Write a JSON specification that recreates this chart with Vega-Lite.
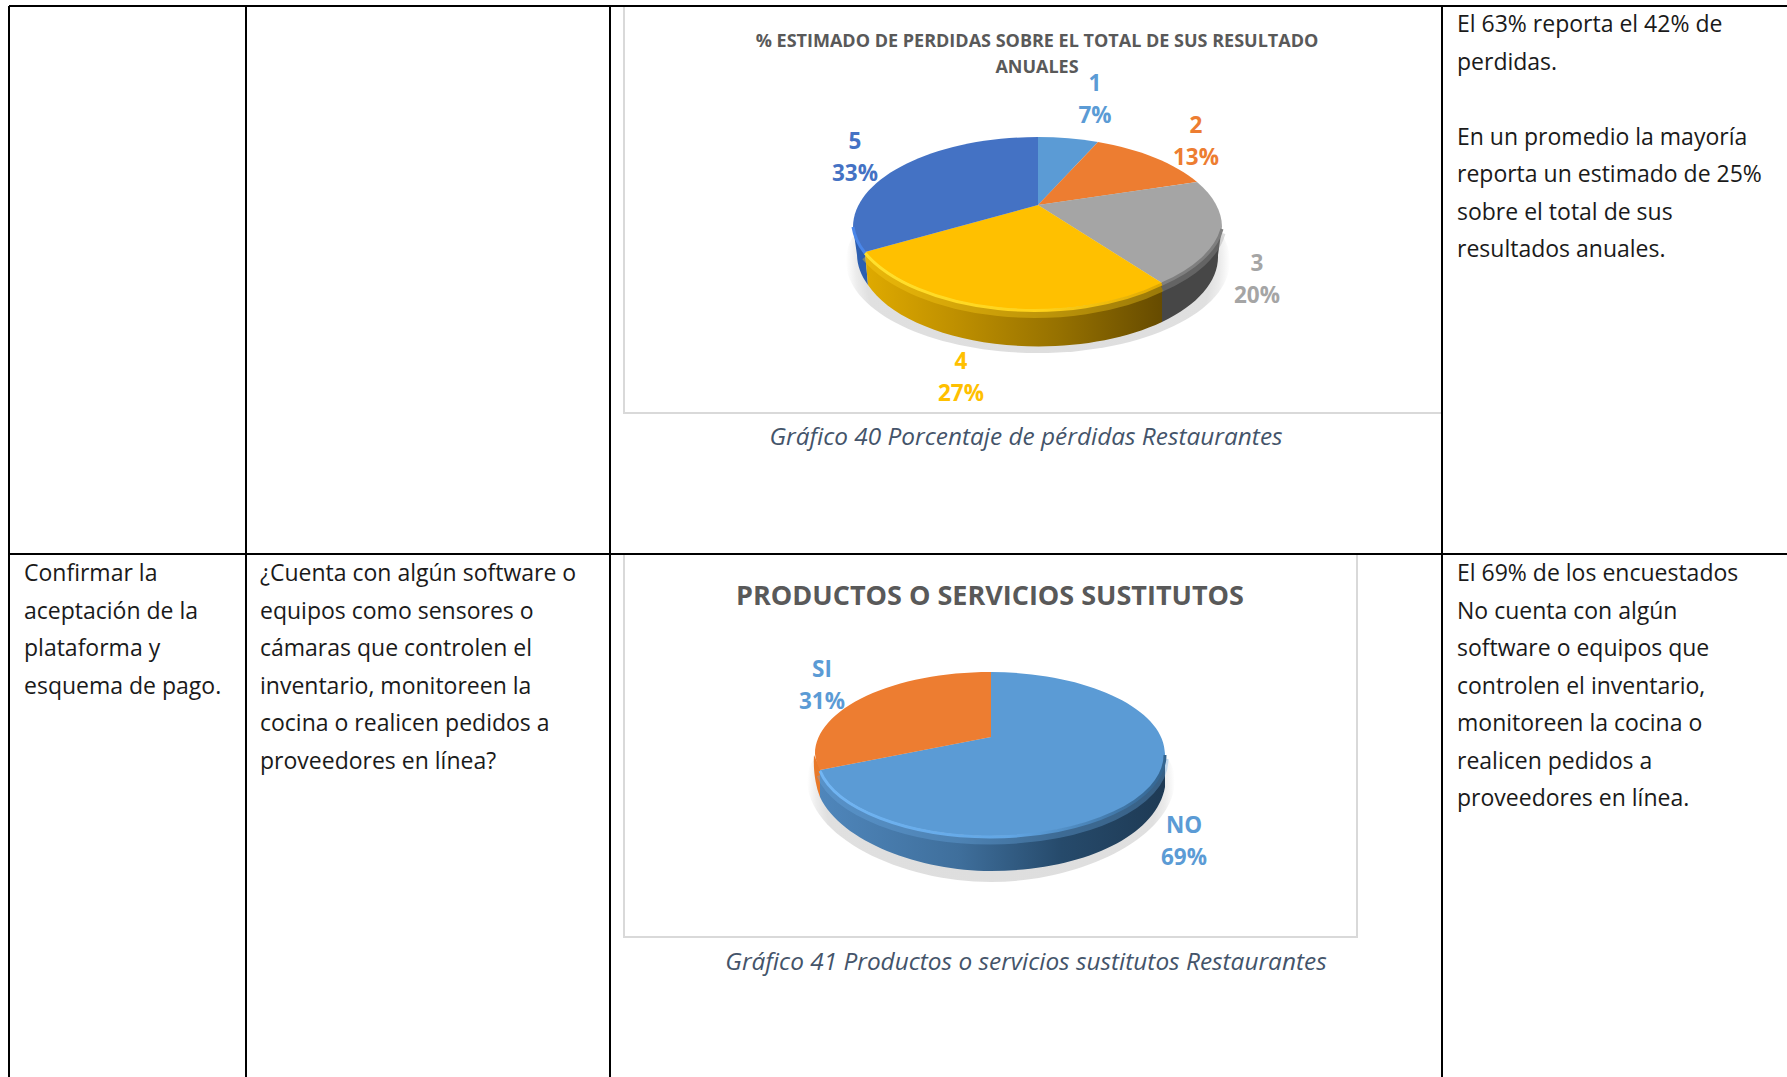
{
"$schema":"https://vega.github.io/schema/vega-lite/v6.json",
"width":1787,"height":1077,"padding":0,"autosize":"none","background":"white",
"config":{"view":{"stroke":null},"point":{"size":4,"opacity":1,"filled":true},"text":{"font":"Open Sans","baseline":"middle","lineBreak":"\n"}},
"datasets":{
"tramo":[{"ini":0,"fin":1}],
"porciones":[
{"grafico":"40","porcion":"1","clave":"40-1","valor":7,"etiqueta":"1\n7%"},
{"grafico":"40","porcion":"2","clave":"40-2","valor":13,"etiqueta":"2\n13%"},
{"grafico":"40","porcion":"3","clave":"40-3","valor":20,"etiqueta":"3\n20%"},
{"grafico":"40","porcion":"4","clave":"40-4","valor":27,"etiqueta":"4\n27%"},
{"grafico":"40","porcion":"5","clave":"40-5","valor":33,"etiqueta":"5\n33%"},
{"grafico":"41","porcion":"NO","clave":"41-NO","valor":69,"etiqueta":"NO\n69%"},
{"grafico":"41","porcion":"SI","clave":"41-SI","valor":31,"etiqueta":"SI\n31%"}
],
"titulos":[
{"grafico":"40","titulo":"% ESTIMADO DE PERDIDAS SOBRE EL TOTAL DE SUS RESULTADO\nANUALES","pie":"Gráfico 40 Porcentaje de pérdidas Restaurantes"},
{"grafico":"41","titulo":"PRODUCTOS O SERVICIOS SUSTITUTOS","pie":"Gráfico 41 Productos o servicios sustitutos Restaurantes"}
],
"celdas":[
{"columna":3,"linea":1,"texto":"El 63% reporta el 42% de"},
{"columna":3,"linea":2,"texto":"perdidas."},
{"columna":3,"linea":4,"texto":"En un promedio la mayoría"},
{"columna":3,"linea":5,"texto":"reporta un estimado de 25%"},
{"columna":3,"linea":6,"texto":"sobre el total de sus"},
{"columna":3,"linea":7,"texto":"resultados anuales."},
{"columna":0,"linea":8,"texto":"Confirmar la"},
{"columna":0,"linea":9,"texto":"aceptación de la"},
{"columna":0,"linea":10,"texto":"plataforma y"},
{"columna":0,"linea":11,"texto":"esquema de pago."},
{"columna":1,"linea":8,"texto":"¿Cuenta con algún software o"},
{"columna":1,"linea":9,"texto":"equipos como sensores o"},
{"columna":1,"linea":10,"texto":"cámaras que controlen el"},
{"columna":1,"linea":11,"texto":"inventario, monitoreen la"},
{"columna":1,"linea":12,"texto":"cocina o realicen pedidos a"},
{"columna":1,"linea":13,"texto":"proveedores en línea?"},
{"columna":3,"linea":8,"texto":"El 69% de los encuestados"},
{"columna":3,"linea":9,"texto":"No cuenta con algún"},
{"columna":3,"linea":10,"texto":"software o equipos que"},
{"columna":3,"linea":11,"texto":"controlen el inventario,"},
{"columna":3,"linea":12,"texto":"monitoreen la cocina o"},
{"columna":3,"linea":13,"texto":"realicen pedidos a"},
{"columna":3,"linea":14,"texto":"proveedores en línea."}
]
},
"data":{"name":"porciones"},
"encoding":{
"x":{"field":"grafico","type":"nominal","axis":null,"scale":{"type":"point","domain":["40","41"],"range":[1038,991],"padding":0}},
"y":{"field":"grafico","type":"nominal","axis":null,"scale":{"type":"point","domain":["40","41"],"range":[205,737],"padding":0}}
},
"resolve":{"scale":{"x":"independent","y":"independent","shape":"independent","color":"independent"}},
"layer":[
{"data":{"name":"tramo"},"mark":{"type":"rect","fill":"transparent","stroke":"#d9d9d9","strokeWidth":2},
 "encoding":{"x":{"field":"ini","type":"quantitative","axis":null,"scale":{"domain":[0,1],"range":[624,1442],"nice":false,"zero":false}},"x2":{"field":"fin"},"y":{"field":"ini","type":"quantitative","axis":null,"scale":{"domain":[0,1],"range":[6,413],"nice":false,"zero":false}},"y2":{"field":"fin"}}},
{"data":{"name":"tramo"},"mark":{"type":"rect","fill":"transparent","stroke":"#d9d9d9","strokeWidth":2},
 "encoding":{"x":{"field":"ini","type":"quantitative","axis":null,"scale":{"domain":[0,1],"range":[624,1357],"nice":false,"zero":false}},"x2":{"field":"fin"},"y":{"field":"ini","type":"quantitative","axis":null,"scale":{"domain":[0,1],"range":[554,937],"nice":false,"zero":false}},"y2":{"field":"fin"}}},
{"data":{"values":[{"borde":0,"ini":0,"fin":1},{"borde":1,"ini":0,"fin":1},{"borde":2,"ini":0,"fin":1},{"borde":3,"ini":0,"fin":1}]},"mark":{"type":"rule","stroke":"#000","strokeWidth":2},
 "encoding":{"x":{"field":"borde","type":"quantitative","axis":null,"scale":{"domain":[0,1,2,3],"range":[9,246,610,1442],"nice":false,"zero":false}},"y":{"field":"ini","type":"quantitative","axis":null,"scale":{"domain":[0,1],"range":[6,1077],"nice":false,"zero":false}},"y2":{"field":"fin"}}},
{"data":{"values":[{"fila":0,"ini":0,"fin":1},{"fila":1,"ini":0,"fin":1}]},"mark":{"type":"rule","stroke":"#000","strokeWidth":2},
 "encoding":{"y":{"field":"fila","type":"quantitative","axis":null,"scale":{"domain":[0,1],"range":[6,554],"nice":false,"zero":false}},"x":{"field":"ini","type":"quantitative","axis":null,"scale":{"domain":[0,1],"range":[9,1787],"nice":false,"zero":false}},"x2":{"field":"fin"}}},
{"data":{"name":"celdas"},"mark":{"type":"text","align":"left","fontSize":23,"color":"#1a1a1a"},
 "encoding":{"text":{"field":"texto"},
 "x":{"field":"columna","type":"quantitative","axis":null,"scale":{"domain":[0,1,3],"range":[24,260,1457],"nice":false,"zero":false}},
 "y":{"field":"linea","type":"quantitative","axis":null,"scale":{"domain":[1,7,8,14],"range":[25,250,574,799],"nice":false,"zero":false}}}},
{"data":{"name":"titulos"},"transform":[{"filter":"datum.grafico=='40'"}],"mark":{"type":"text","align":"center","fontSize":18,"fontWeight":"bold","color":"#595959","lineHeight":26,"dx":-1,"dy":-163},"encoding":{"text":{"field":"titulo"}}},
{"data":{"name":"titulos"},"transform":[{"filter":"datum.grafico=='41'"}],"mark":{"type":"text","align":"center","fontSize":27,"fontWeight":"bold","color":"#595959","dx":-1,"dy":-140},"encoding":{"text":{"field":"titulo"}}},
{"data":{"name":"titulos"},"transform":[{"filter":"datum.grafico=='40'"}],"mark":{"type":"text","align":"center","fontSize":24.4,"fontStyle":"italic","color":"#44546A","dx":-12,"dy":233},"encoding":{"text":{"field":"pie"}}},
{"data":{"name":"titulos"},"transform":[{"filter":"datum.grafico=='41'"}],"mark":{"type":"text","align":"center","fontSize":24.4,"fontStyle":"italic","color":"#44546A","dx":35,"dy":226},"encoding":{"text":{"field":"pie"}}},

{"transform":[{"filter":"datum.clave=='40-1'"}],"mark":{"type":"point","shape":"M-192,56 A192,92 0 1 0 192,56 A192,92 0 1 0 -192,56 Z","fill":{"gradient":"radial","x1":0.5,"y1":0.5,"r1":0,"x2":0.5,"y2":0.5,"r2":0.5,"stops":[{"offset":0,"color":"#dcdcdc"},{"offset":0.9,"color":"#e0e0e0"},{"offset":0.95,"color":"#ececec"},{"offset":1,"color":"#ffffff"}]}}},
{"transform":[{"filter":"datum.clave=='41-NO'"}],"mark":{"type":"point","shape":"M-184,42 C-184,100 -90,145 0,145 C90,145 184,100 184,42 C184,0 90,-40 0,-40 C-90,-40 -184,0 -184,42 Z","fill":{"gradient":"radial","x1":0.5,"y1":0.5,"r1":0,"x2":0.5,"y2":0.5,"r2":0.5,"stops":[{"offset":0,"color":"#dcdcdc"},{"offset":0.9,"color":"#e0e0e0"},{"offset":0.95,"color":"#ececec"},{"offset":1,"color":"#ffffff"}]}}},

{"transform":[{"filter":"datum.clave=='40-3'"}],"mark":{"type":"point","shape":"M184,22 A185,90 0 0 1 124,78 L124,117 A180,90 0 0 0 180,50 Z","fill":"#474747"}},
{"transform":[{"filter":"datum.clave=='40-5'"}],"mark":{"type":"point","shape":"M-185,22 A185,90 0 0 0 -173,47 L-170,80 A180,90 0 0 1 -181,50 Z","fill":"#2d5fb0"}},
{"transform":[{"filter":"datum.clave=='40-4'"}],"mark":{"type":"point","shape":"M124,78 A185,96 0 0 1 -173,47 L-170,80 A180,90 0 0 0 124,117 Z","fill":{"gradient":"linear","x1":0,"y1":0,"x2":1,"y2":0,"stops":[{"offset":0,"color":"#dfaa00"},{"offset":0.3,"color":"#bf9000"},{"offset":0.65,"color":"#967100"},{"offset":1,"color":"#664b00"}]}}},
{"transform":[{"filter":"datum.clave=='41-SI'"}],"mark":{"type":"point","shape":"M-177,18 L-171,31 L-171,60 C-175,50 -178,35 -177,18 Z","fill":"#e8792a"}},
{"transform":[{"filter":"datum.clave=='41-NO'"}],"mark":{"type":"point","shape":"M174,17 A175,82 0 0 1 -1,99 A175,82 0 0 1 -171,33 L-171,60 C-150,105 -70,134 0,134 C90,134 165,100 174,50 Z","fill":{"gradient":"linear","x1":0,"y1":0,"x2":1,"y2":0,"stops":[{"offset":0,"color":"#4f86bb"},{"offset":0.4,"color":"#3f6f9c"},{"offset":0.7,"color":"#264a6b"},{"offset":1,"color":"#1e3a54"}]}}},

{"transform":[{"filter":"datum.clave=='40-4'"}],"mark":{"type":"point","filled":false,"fill":"transparent","strokeWidth":7,"strokeOpacity":0.35,"shape":"M124,83 A185,96 0 0 1 -173,52","stroke":"#ffd21a"}},
{"transform":[{"filter":"datum.clave=='40-3'"}],"mark":{"type":"point","filled":false,"fill":"transparent","strokeWidth":7,"strokeOpacity":0.35,"shape":"M184,28 A185,90 0 0 1 124,83","stroke":"#9a9a9a"}},
{"transform":[{"filter":"datum.clave=='41-NO'"}],"mark":{"type":"point","filled":false,"fill":"transparent","strokeWidth":7,"strokeOpacity":0.35,"shape":"M174,22 A175,82 0 0 1 -1,104 A175,82 0 0 1 -171,38","stroke":"#6aa8e2"}},

{"mark":{"type":"point"},
 "encoding":{
 "shape":{"field":"clave","type":"nominal","legend":null,"scale":{"domain":["40-1","40-2","40-3","40-4","40-5","41-NO","41-SI"],"range":[
 "M0,0 L0,-68 A185,90 0 0 1 60,-63 Z",
 "M0,0 L60,-63 A185,90 0 0 1 159,-23 Z",
 "M0,0 L159,-23 A185,90 0 0 1 184,22 A185,90 0 0 1 124,78 Z",
 "M0,0 L124,78 A185,96 0 0 1 -173,47 Z",
 "M0,0 L-173,47 A185,90 0 0 1 -185,22 A185,90 0 0 1 0,-68 Z",
 "M0,0 L0,-65 A175,82 0 0 1 174,17 A175,82 0 0 1 -1,99 A175,82 0 0 1 -171,33 Z",
 "M0,0 L-171,33 A175,82 0 0 1 -176,17 A175,82 0 0 1 0,-65 Z"]}},
 "color":{"field":"clave","type":"nominal","legend":null,"scale":{"domain":["40-1","40-2","40-3","40-4","40-5","41-NO","41-SI"],"range":["#5B9BD5","#ED7D31","#A5A5A5","#FFC000","#4472C4","#5B9BD5","#ED7D31"]}}
 }},

{"transform":[{"filter":"datum.clave=='40-4'"}],"mark":{"type":"point","filled":false,"fill":"transparent","strokeWidth":3,"shape":"M124,79 A185,96 0 0 1 -173,48","stroke":{"gradient":"linear","x1":0,"y1":0,"x2":1,"y2":0,"stops":[{"offset":0,"color":"#ffe12e"},{"offset":0.6,"color":"#ffd21a"},{"offset":1,"color":"#e0a800"}]}}},
{"transform":[{"filter":"datum.clave=='40-3'"}],"mark":{"type":"point","filled":false,"fill":"transparent","strokeWidth":3,"shape":"M184,24 A185,90 0 0 1 124,79","stroke":"#7f7f7f"}},
{"transform":[{"filter":"datum.clave=='40-5'"}],"mark":{"type":"point","filled":false,"fill":"transparent","strokeWidth":3,"shape":"M-185,22 A185,90 0 0 0 -173,48","stroke":"#4a86e8"}},
{"transform":[{"filter":"datum.clave=='41-NO'"}],"mark":{"type":"point","filled":false,"fill":"transparent","strokeWidth":3,"shape":"M174,18 A175,82 0 0 1 -1,100 A175,82 0 0 1 -171,34","stroke":{"gradient":"linear","x1":0,"y1":0,"x2":1,"y2":0,"stops":[{"offset":0,"color":"#72b6f4"},{"offset":0.55,"color":"#62a6e4"},{"offset":1,"color":"#33648f"}]}}},

{"transform":[{"filter":"datum.clave=='40-1'"}],"mark":{"type":"text","align":"center","fontSize":22.5,"fontWeight":"bold","lineHeight":32,"color":"#5B9BD5","dx":57,"dy":-121},"encoding":{"text":{"field":"etiqueta"}}},
{"transform":[{"filter":"datum.clave=='40-2'"}],"mark":{"type":"text","align":"center","fontSize":22.5,"fontWeight":"bold","lineHeight":32,"color":"#ED7D31","dx":158,"dy":-79},"encoding":{"text":{"field":"etiqueta"}}},
{"transform":[{"filter":"datum.clave=='40-3'"}],"mark":{"type":"text","align":"center","fontSize":22.5,"fontWeight":"bold","lineHeight":32,"color":"#A5A5A5","dx":219,"dy":59},"encoding":{"text":{"field":"etiqueta"}}},
{"transform":[{"filter":"datum.clave=='40-4'"}],"mark":{"type":"text","align":"center","fontSize":22.5,"fontWeight":"bold","lineHeight":32,"color":"#FFC000","dx":-77,"dy":157},"encoding":{"text":{"field":"etiqueta"}}},
{"transform":[{"filter":"datum.clave=='40-5'"}],"mark":{"type":"text","align":"center","fontSize":22.5,"fontWeight":"bold","lineHeight":32,"color":"#4472C4","dx":-183,"dy":-63},"encoding":{"text":{"field":"etiqueta"}}},
{"transform":[{"filter":"datum.clave=='41-NO'"}],"mark":{"type":"text","align":"center","fontSize":22.5,"fontWeight":"bold","lineHeight":32,"color":"#5B9BD5","dx":193,"dy":89},"encoding":{"text":{"field":"etiqueta"}}},
{"transform":[{"filter":"datum.clave=='41-SI'"}],"mark":{"type":"text","align":"center","fontSize":22.5,"fontWeight":"bold","lineHeight":32,"color":"#5B9BD5","dx":-169,"dy":-67},"encoding":{"text":{"field":"etiqueta"}}}
]
}
